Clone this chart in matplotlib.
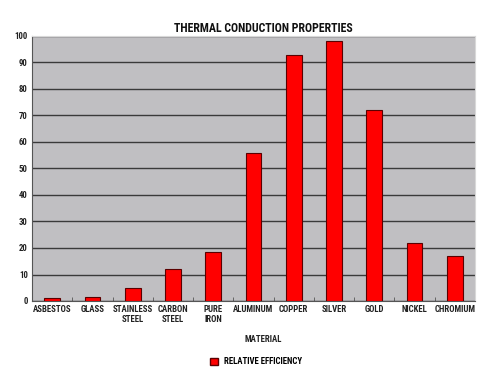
import matplotlib
matplotlib.use("Agg")
import matplotlib.pyplot as plt
import numpy as np
from matplotlib.patches import Patch

categories = ["ASBESTOS", "GLASS", "STAINLESS\nSTEEL", "CARBON\nSTEEL", "PURE\nIRON",
              "ALUMINUM", "COPPER", "SILVER", "GOLD", "NICKEL", "CHROMIUM"]
values = [1.0, 1.5, 5.0, 12.2, 18.5, 56, 93, 98, 72, 22, 17]
yticks = list(range(0, 101, 10))

plt.rcParams['font.family'] = ['Roboto Condensed', 'DejaVu Sans']
plt.rcParams['font.weight'] = 'bold'

fig = plt.figure(figsize=(4.96, 3.72), dpi=100)
ax = fig.add_axes([32/496, 1 - 301/372, 443/496, 265/372])
ax.set_facecolor('#c0bfc2')
x = np.arange(len(categories))
ax.bar(x, values, width=0.39, color='#ff0000', edgecolor='#5a0000', linewidth=0.8, zorder=3)
ax.set_xlim(-0.5, len(categories) - 0.5)
ax.set_ylim(0, 100)
ax.set_yticks(yticks)
ax.set_yticklabels([str(t) for t in yticks], fontsize=6.3, fontweight='bold', color='#222222')
ax.yaxis.grid(True, color='#3a3a3a', linewidth=1.0, zorder=1)
ax.set_axisbelow(True)
ax.set_xticks(x)
ax.set_xticklabels(categories, fontsize=6.3, fontweight='bold', color='#222222', linespacing=1.15)
ax.tick_params(axis='x', length=0, pad=3)
ax.tick_params(axis='y', length=0, pad=3)
ax.set_xticks(np.arange(-0.5, len(categories), 1), minor=True)
ax.tick_params(axis='x', which='minor', direction='in', length=3, color='#555555')
for s in ['top', 'right']:
    ax.spines[s].set_color('#d8d8d8')
for s in ['left', 'bottom']:
    ax.spines[s].set_color('#555555')
ax.set_title("THERMAL CONDUCTION PROPERTIES", fontsize=8.6, fontweight='bold', color='#111111',
             pad=3, x=(263 - 32) / 443)
fig.text(263/496, 1 - 340/372, "MATERIAL", fontsize=6.3, fontweight='bold', ha='center', va='center', color='#222222')
fig.legend(handles=[Patch(facecolor='#ff0000', edgecolor='#5a0000', label='RELATIVE EFFICIENCY')],
           loc='center', bbox_to_anchor=(256/496, 1 - 362/372), frameon=False,
           prop={'size': 6.3, 'weight': 'bold'}, handlelength=0.9, handleheight=0.9, handletextpad=0.6)
fig.savefig("out.png", dpi=100, facecolor='white')
